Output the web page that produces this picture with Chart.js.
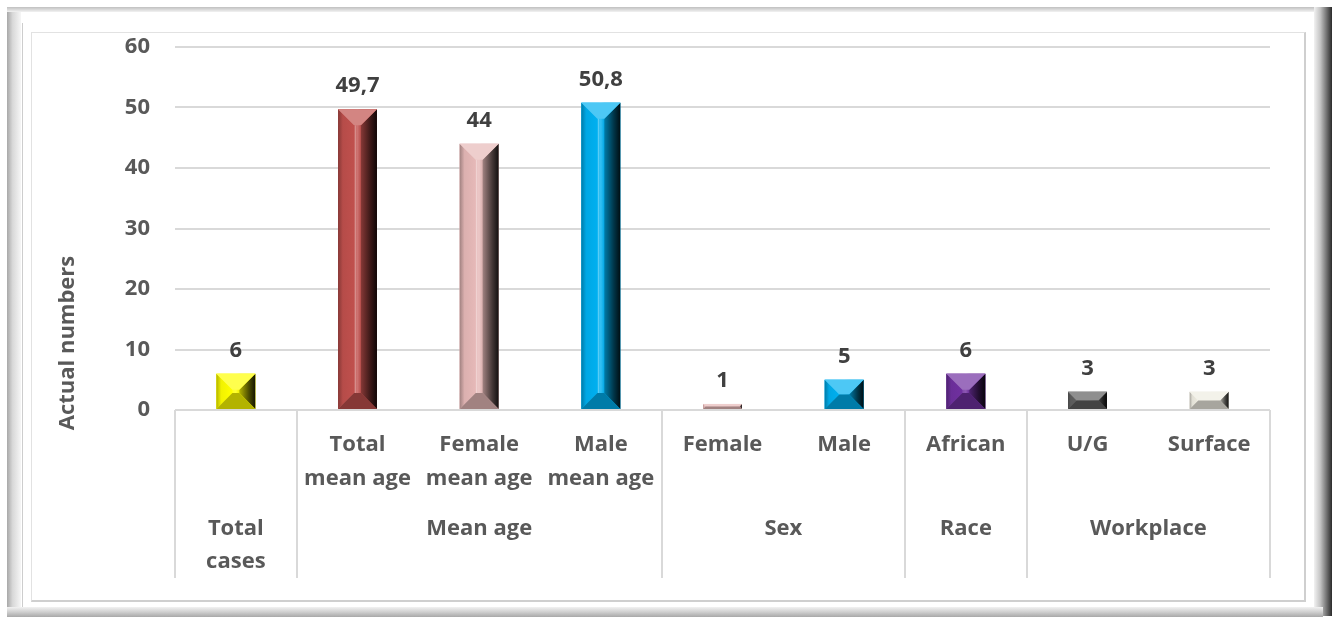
<!DOCTYPE html>
<html>
<head>
<meta charset="utf-8">
<script src="https://cdn.jsdelivr.net/npm/chart.js@4.4.1/dist/chart.umd.min.js"></script>
<style>
  html, body { margin: 0; padding: 0; background: #fff; }
  #wrap { position: relative; width: 1332px; height: 617px; overflow: hidden; }
  .strip { position: absolute; }
  #left   { left: 7px; top: 7px; width: 14px; height: 609px; background: linear-gradient(to right, #a8a8a8, #d8d8d8 40%, #f6f6f6); }
  #top    { left: 7px; top: 7px; width: 1324px; height: 5px; background: linear-gradient(to bottom, #c0c0c0, #f2f2f2); }
  #right  { left: 1314px; top: 7px; width: 18px; height: 609px; background: linear-gradient(to right, #f2f2f2, #c4c4c4 35%, #666 75%, #2a2a2a); }
  #bottom { left: 7px; top: 607px; width: 1316px; height: 10px; background: linear-gradient(to bottom, #f2f2f2, #cfcfcf 50%, #a8a8a8); }
  #edge   { left: 22px; top: 23px; width: 1px; height: 584px; background: #cdcdcd; }
  #inner  { left: 31px; top: 32px; width: 1272px; height: 567px; border: 1px solid #e2e2e2; border-right: 2px solid #cfcfcf; border-bottom: 2px solid #cfcfcf; }
  canvas { position: absolute; left: 0; top: 0; }
</style>
</head>
<body>
<div id="wrap">
  <div class="strip" id="left"></div>
  <div class="strip" id="top"></div>
  <div class="strip" id="right"></div>
  <div class="strip" id="bottom"></div>
  <div class="strip" id="edge"></div>
  <div class="strip" id="inner"></div>
  <canvas id="chart" width="1332" height="617"></canvas>
</div>
<script>
// categories (one or two lines each) and the groups they belong to
const categories = [
  ['Total', 'cases'],
  ['Total', 'mean age'],
  ['Female', 'mean age'],
  ['Male', 'mean age'],
  ['Female'],
  ['Male'],
  ['African'],
  ['U/G'],
  ['Surface']
];
const groups = [
  { label: [], from: 0, to: 0 },          // "Total cases" spans both rows
  { label: ['Mean age'], from: 1, to: 3 },
  { label: ['Sex'], from: 4, to: 5 },
  { label: ['Race'], from: 6, to: 6 },
  { label: ['Workplace'], from: 7, to: 8 }
];
const values = [6, 49.7, 44, 50.8, 1, 5, 6, 3, 3];
const barColors = ['#FFFF00', '#C0504D', '#E6B9B8', '#00B0F0', '#E6B9B8', '#00B0F0', '#7030A0', '#5F5F5F', '#EEECE1'];
const yTicks = [0, 10, 20, 30, 40, 50, 60];

const FONT = '"Open Sans", "DejaVu Sans", sans-serif';
const LABEL_GRAY = '#595959';

function hexToRgb(hex) {
  const n = parseInt(hex.slice(1), 16);
  return [(n >> 16) & 255, (n >> 8) & 255, n & 255];
}
// t > 0 mixes toward white, t < 0 toward black
function shade(hex, t) {
  const c = hexToRgb(hex);
  const target = t > 0 ? 255 : 0;
  const k = Math.abs(t);
  const m = c.map(v => Math.round(v + (target - v) * k));
  return `rgb(${m[0]},${m[1]},${m[2]})`;
}

function poly(ctx, pts, fill) {
  ctx.beginPath();
  ctx.moveTo(pts[0][0], pts[0][1]);
  for (let i = 1; i < pts.length; i++) ctx.lineTo(pts[i][0], pts[i][1]);
  ctx.closePath();
  ctx.fillStyle = fill;
  ctx.fill();
}

// angled bevel drawn over each bar
const bevelPlugin = {
  id: 'bevel',
  afterDatasetsDraw(chart) {
    const ctx = chart.ctx;
    const meta = chart.getDatasetMeta(0);
    ctx.save();
    meta.data.forEach((bar, i) => {
      const p = bar.getProps(['x', 'y', 'base', 'width'], true);
      const col = barColors[i];
      const l = p.x - p.width / 2, r = p.x + p.width / 2;
      const t = Math.min(p.y, p.base), b = Math.max(p.y, p.base);
      const d = Math.min(16, p.width / 2 - 3, (b - t) / 2);

      // center face
      const cg = ctx.createLinearGradient(l + d, 0, r - d, 0);
      cg.addColorStop(0, shade(col, 0.12));
      cg.addColorStop(0.5, shade(col, 0.2));
      cg.addColorStop(1, shade(col, -0.05));
      ctx.fillStyle = cg;
      ctx.fillRect(l, t, r - l, b - t);

      const lg = ctx.createLinearGradient(l, 0, l + d, 0);
      lg.addColorStop(0, shade(col, -0.3));
      lg.addColorStop(0.3, shade(col, -0.05));
      lg.addColorStop(1, col);
      poly(ctx, [[l, t], [l + d, t + d], [l + d, b - d], [l, b]], lg);

      const rg = ctx.createLinearGradient(r - d, 0, r, 0);
      rg.addColorStop(0, shade(col, -0.3));
      rg.addColorStop(0.6, shade(col, -0.7));
      rg.addColorStop(1, shade(col, -0.92));
      poly(ctx, [[r, t], [r - d, t + d], [r - d, b - d], [r, b]], rg);

      poly(ctx, [[l, t], [r, t], [r - d, t + d], [l + d, t + d]], shade(col, 0.3));
      poly(ctx, [[l, b], [r, b], [r - d, b - d], [l + d, b - d]], shade(col, -0.3));

      // thin highlight down the middle of tall bars
      if (b - t > 4 * d) {
        ctx.fillStyle = shade(col, 0.35);
        ctx.fillRect(Math.round(p.x - 3), t + d, 1, b - t - 2 * d);
      }
    });
    ctx.restore();
  }
};

// value labels above the bars
const valueLabelPlugin = {
  id: 'valueLabels',
  afterDatasetsDraw(chart) {
    const ctx = chart.ctx;
    const meta = chart.getDatasetMeta(0);
    ctx.save();
    ctx.font = `bold 22px ${FONT}`;
    ctx.fillStyle = '#404040';
    ctx.textAlign = 'center';
    ctx.textBaseline = 'alphabetic';
    meta.data.forEach((bar, i) => {
      const txt = String(values[i]).replace('.', ',');
      ctx.fillText(txt, bar.x, bar.y - 17);
    });
    ctx.restore();
  }
};

// two-level category axis, y-axis title
const categoryAxisPlugin = {
  id: 'categoryAxis',
  afterDraw(chart) {
    const ctx = chart.ctx;
    const xs = chart.scales.x;
    const top = chart.chartArea.bottom;
    const step = xs.getPixelForValue(1) - xs.getPixelForValue(0);
    const edge = i => xs.getPixelForValue(i) - step / 2;

    ctx.save();
    ctx.font = `bold 22px ${FONT}`;
    ctx.fillStyle = LABEL_GRAY;
    ctx.textAlign = 'center';
    ctx.textBaseline = 'alphabetic';

    categories.forEach((lines, i) => {
      const x = xs.getPixelForValue(i);
      if (i === 0) {
        // single category group: label sits on the group row
        lines.forEach((s, k) => ctx.fillText(s, x, top + 125 + k * 33));
      } else {
        lines.forEach((s, k) => ctx.fillText(s, x, top + 41 + k * 34));
      }
    });

    groups.forEach(g => {
      const x = (edge(g.from) + edge(g.to + 1)) / 2;
      g.label.forEach((s, k) => ctx.fillText(s, x, top + 125 + k * 33));
    });

    // dividers between groups
    ctx.strokeStyle = '#d9d9d9';
    ctx.lineWidth = 2;
    const cuts = [0];
    groups.forEach(g => cuts.push(g.to + 1));
    cuts.forEach(c => {
      const x = Math.round(edge(c));
      ctx.beginPath();
      ctx.moveTo(x, top);
      ctx.lineTo(x, top + 168);
      ctx.stroke();
    });

    // y-axis title
    ctx.translate(68, 343);
    ctx.rotate(-Math.PI / 2);
    ctx.textBaseline = 'middle';
    ctx.fillText('Actual numbers', 0, 0);
    ctx.restore();
  }
};

new Chart(document.getElementById('chart'), {
  type: 'bar',
  data: {
    labels: categories.map(c => c.join(' ')),
    datasets: [{
      data: values,
      backgroundColor: barColors,
      borderWidth: 0,
      categoryPercentage: 1,
      barPercentage: 0.32
    }]
  },
  options: {
    responsive: false,
    animation: false,
    events: [],
    layout: { padding: { left: 0, right: 62, top: 47, bottom: 0 } },
    plugins: {
      legend: { display: false },
      tooltip: { enabled: false }
    },
    scales: {
      x: {
        grid: { display: false },
        border: { display: false },
        ticks: { display: false },
        afterFit(scale) { scale.height = 207; }
      },
      y: {
        min: 0,
        max: 60,
        afterBuildTicks(scale) { scale.ticks = yTicks.map(v => ({ value: v })); },
        grid: { color: '#d9d9d9', lineWidth: 2, drawTicks: false },
        border: { display: false },
        ticks: {
          padding: 25,
          color: LABEL_GRAY,
          font: { family: FONT, size: 22, weight: 'bold' }
        },
        afterFit(scale) { scale.width = 175; }
      }
    }
  },
  plugins: [bevelPlugin, valueLabelPlugin, categoryAxisPlugin]
});
</script>
</body>
</html>
